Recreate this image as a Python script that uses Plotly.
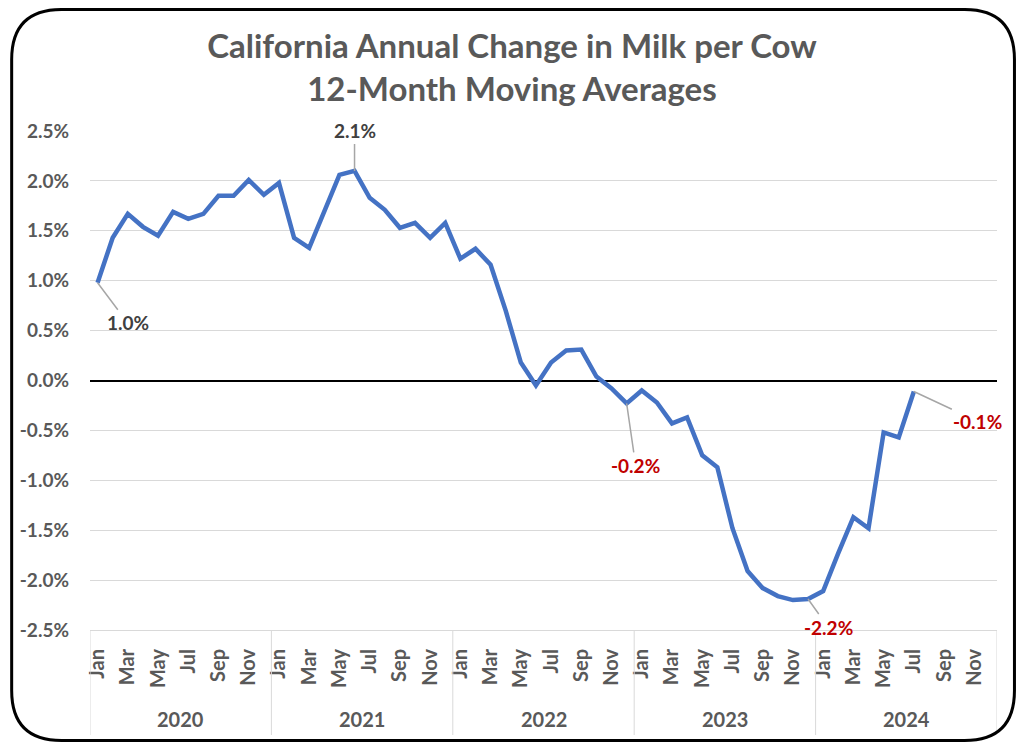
import plotly.graph_objects as go

# dados (variação anual, média móvel 12 meses, em %)
anos = [2020, 2021, 2022, 2023, 2024]
meses = ['Jan', 'Feb', 'Mar', 'Apr', 'May', 'Jun',
         'Jul', 'Aug', 'Sep', 'Oct', 'Nov', 'Dec']
meses_rotulo = ['Jan', 'Mar', 'May', 'Jul', 'Sep', 'Nov']

valores = [
    0.98, 1.43, 1.67, 1.54, 1.45, 1.69, 1.62, 1.67, 1.85, 1.85, 2.01, 1.86,   # 2020
    1.98, 1.43, 1.33, 1.69, 2.06, 2.10, 1.83, 1.71, 1.53, 1.58, 1.43, 1.58,   # 2021
    1.22, 1.32, 1.16, 0.70, 0.18, -0.05, 0.18, 0.30, 0.31, 0.04, -0.08, -0.23,  # 2022
    -0.10, -0.22, -0.43, -0.37, -0.75, -0.87, -1.48, -1.91, -2.08, -2.16, -2.20, -2.19,  # 2023
    -2.11, -1.73, -1.37, -1.48, -0.52, -0.57, -0.11,                          # 2024
]

y_ticks = [2.5, 2.0, 1.5, 1.0, 0.5, 0.0, -0.5, -1.0, -1.5, -2.0, -2.5]

# rótulos de dados: (índice do ponto, texto, cor, deslocamento x, deslocamento y)
rotulos = [
    (0, '1.0%', '#404040', 30, 40),
    (17, '2.1%', '#404040', 0, -40),
    (35, '-0.2%', '#C00000', 9, 62),
    (47, '-2.2%', '#C00000', 20, 28),
    (54, '-0.1%', '#C00000', 64, 30),
]

categorias = [f'{m} {a}' for a in anos for m in meses]
ticks = [f'{m} {a}' for a in anos for m in meses_rotulo]
ticks_texto = [t.split()[0] for t in ticks]

# a página tem 8px de margem: a figura ocupa 8..1016 x 8..742 da tela
OFF = 8
W, H = 1008, 734
L, R, T, B = 80, 19, 123, 112
CINZA = '#595959'
FONTE = 'Lato'


def px_x(sx):
    return (sx - OFF - L) / (W - L - R)


def px_y(sy):
    return (H - B - (sy - OFF)) / (H - T - B)


fig = go.Figure(go.Scatter(
    x=categorias[:len(valores)],
    y=valores,
    mode='lines',
    line=dict(color='#4472C4', width=4.5),
    hoverinfo='x+y',
))

for i, txt, cor, dx, dy in rotulos:
    fig.add_annotation(
        x=categorias[i], y=valores[i], text=txt,
        showarrow=True, arrowhead=0, arrowwidth=1.5, arrowcolor='#a6a6a6',
        ax=dx, ay=dy, font=dict(size=19, color=cor, family=FONTE, weight='bold'),
    )

# anos abaixo dos meses + divisórias
for k, a in enumerate(anos):
    fig.add_annotation(
        x=k * 12 + 5.5, y=px_y(719), yref='paper', yanchor='middle',
        text=str(a), showarrow=False,
        font=dict(size=20, color=CINZA, family=FONTE, weight='bold'),
    )
for k in range(len(anos) + 1):
    fig.add_shape(
        type='line', xref='x', yref='paper',
        x0=k * 12 - 0.5, x1=k * 12 - 0.5, y0=0, y1=px_y(735),
        line=dict(color='#d9d9d9', width=1),
    )

# moldura arredondada
x0, x1, y0, y1, r = 9.5, 1014.5, 9.5, 740.5, 50
pts = [
    ('M', x0 + r, y0), ('L', x1 - r, y0), ('Q', x1, y0, x1, y0 + r),
    ('L', x1, y1 - r), ('Q', x1, y1, x1 - r, y1), ('L', x0 + r, y1),
    ('Q', x0, y1, x0, y1 - r), ('L', x0, y0 + r), ('Q', x0, y0, x0 + r, y0),
]
caminho = ''
for p in pts:
    coords = p[1:]
    partes = []
    for j in range(0, len(coords), 2):
        partes.append(f'{px_x(coords[j]):.5f},{px_y(coords[j + 1]):.5f}')
    caminho += p[0] + ' ' + ' '.join(partes) + ' '
fig.add_shape(type='path', xref='paper', yref='paper', path=caminho + 'Z',
              line=dict(color='black', width=3), layer='above')

fig.update_layout(
    width=W, height=H,
    margin=dict(l=L, r=R, t=T, b=B),
    paper_bgcolor='white', plot_bgcolor='white',
    showlegend=False,
    title=dict(
        text='California Annual Change in Milk per Cow<br>12-Month Moving Averages',
        x=0.5, xanchor='center', xref='container',
        y=1 - 50 / H, yref='container', yanchor='top',
        font=dict(size=33, color=CINZA, family=FONTE, weight='bold'),
    ),
    xaxis=dict(
        type='category', categoryorder='array', categoryarray=categorias,
        range=[-0.5, len(categorias) - 0.5],
        tickmode='array', tickvals=ticks, ticktext=ticks_texto,
        tickangle=-90,
        tickfont=dict(size=20, color=CINZA, family=FONTE, weight='bold'),
        showgrid=False, showline=True, linecolor='#d9d9d9', linewidth=1,
        ticks='', ticklabelstandoff=10, fixedrange=True,
    ),
    yaxis=dict(
        range=[-2.5, 2.5], tickmode='array', tickvals=y_ticks,
        ticktext=[f'{v:.1f}%' for v in y_ticks],
        tickfont=dict(size=19, color=CINZA, family=FONTE, weight='bold'),
        showgrid=True, gridcolor='#d9d9d9', gridwidth=1,
        zeroline=True, zerolinecolor='black', zerolinewidth=2,
        ticklabelstandoff=20, fixedrange=True,
    ),
)

fig.write_html('out.html')
